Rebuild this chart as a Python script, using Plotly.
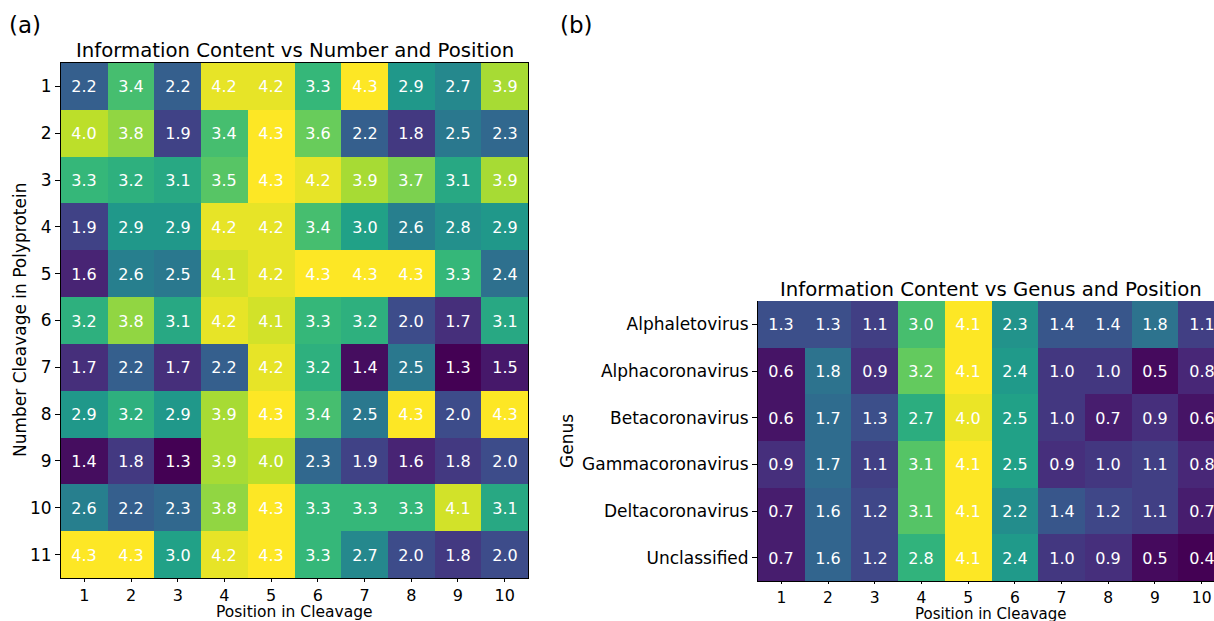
import plotly.graph_objects as go

# Panel (a): information content per cleavage number and position
positions = [1, 2, 3, 4, 5, 6, 7, 8, 9, 10]
cleavage_numbers = [1, 2, 3, 4, 5, 6, 7, 8, 9, 10, 11]
ic_by_number = [
    [2.2, 3.4, 2.2, 4.2, 4.2, 3.3, 4.3, 2.9, 2.7, 3.9],
    [4.0, 3.8, 1.9, 3.4, 4.3, 3.6, 2.2, 1.8, 2.5, 2.3],
    [3.3, 3.2, 3.1, 3.5, 4.3, 4.2, 3.9, 3.7, 3.1, 3.9],
    [1.9, 2.9, 2.9, 4.2, 4.2, 3.4, 3.0, 2.6, 2.8, 2.9],
    [1.6, 2.6, 2.5, 4.1, 4.2, 4.3, 4.3, 4.3, 3.3, 2.4],
    [3.2, 3.8, 3.1, 4.2, 4.1, 3.3, 3.2, 2.0, 1.7, 3.1],
    [1.7, 2.2, 1.7, 2.2, 4.2, 3.2, 1.4, 2.5, 1.3, 1.5],
    [2.9, 3.2, 2.9, 3.9, 4.3, 3.4, 2.5, 4.3, 2.0, 4.3],
    [1.4, 1.8, 1.3, 3.9, 4.0, 2.3, 1.9, 1.6, 1.8, 2.0],
    [2.6, 2.2, 2.3, 3.8, 4.3, 3.3, 3.3, 3.3, 4.1, 3.1],
    [4.3, 4.3, 3.0, 4.2, 4.3, 3.3, 2.7, 2.0, 1.8, 2.0],
]

# Panel (b): information content per genus and position
genera = ["Alphaletovirus", "Alphacoronavirus", "Betacoronavirus",
          "Gammacoronavirus", "Deltacoronavirus", "Unclassified"]
ic_by_genus = [
    [1.3, 1.3, 1.1, 3.0, 4.1, 2.3, 1.4, 1.4, 1.8, 1.1],
    [0.6, 1.8, 0.9, 3.2, 4.1, 2.4, 1.0, 1.0, 0.5, 0.8],
    [0.6, 1.7, 1.3, 2.7, 4.0, 2.5, 1.0, 0.7, 0.9, 0.6],
    [0.9, 1.7, 1.1, 3.1, 4.1, 2.5, 0.9, 1.0, 1.1, 0.8],
    [0.7, 1.6, 1.2, 3.1, 4.1, 2.2, 1.4, 1.2, 1.1, 0.7],
    [0.7, 1.6, 1.2, 2.8, 4.1, 2.4, 1.0, 0.9, 0.5, 0.4],
]

W, H = 1214, 621
FONT = "DejaVu Sans"


def px_x(x):
    return x / W


def px_y(y):
    return 1 - y / H


fig = go.Figure()

fig.add_trace(go.Heatmap(
    z=ic_by_number, x=positions, y=cleavage_numbers,
    colorscale="Viridis", showscale=False,
    texttemplate="%{z:.1f}",
    textfont=dict(color="white", size=16, family=FONT),
    xaxis="x", yaxis="y", hoverinfo="skip",
))

fig.add_trace(go.Heatmap(
    z=ic_by_genus, x=positions, y=genera,
    colorscale="Viridis", showscale=False,
    texttemplate="%{z:.1f}",
    textfont=dict(color="white", size=16, family=FONT),
    xaxis="x2", yaxis="y2", hoverinfo="skip",
))

axis_common = dict(
    showline=True, mirror=True, linecolor="black", linewidth=1,
    tickcolor="black", ticks="outside",
    showgrid=False, zeroline=False,
)
y_ticks = dict(ticklen=5, tickfont=dict(size=17, family=FONT, color="black"))
x_ticks = dict(ticklen=3, tickfont=dict(size=16, family=FONT, color="black"))
x2_ticks = dict(ticklen=2, tickfont=dict(size=15.5, family=FONT, color="black"))

# right panel is wider than the page, so its last column is clipped
right_left, right_cell = 758, 46.7
right_max = 0.5 + (W - right_left) / right_cell

fig.update_layout(
    width=W, height=H,
    margin=dict(l=0, r=0, t=0, b=0),
    paper_bgcolor="white", plot_bgcolor="white",
    font=dict(family=FONT, color="black"),
    xaxis=dict(domain=[px_x(61), px_x(528)], anchor="y",
               tickvals=positions, range=[0.5, 10.5], **axis_common, **x_ticks),
    yaxis=dict(domain=[px_y(578), px_y(63)], anchor="x",
               tickvals=cleavage_numbers, range=[11.5, 0.5], **axis_common, **y_ticks),
    xaxis2=dict(domain=[px_x(right_left), 1], anchor="y2",
                tickvals=positions, range=[0.5, right_max], **axis_common, **x2_ticks),
    yaxis2=dict(domain=[px_y(581), px_y(301)], anchor="x2",
                type="category", autorange="reversed", **axis_common, **y_ticks),
)

fig.update_xaxes(selector=dict(anchor="y2"), mirror=False)

ann = []


def label(text, x, y, size, angle=0):
    ann.append(dict(text=text, x=px_x(x), y=px_y(y), xref="paper", yref="paper",
                    showarrow=False, textangle=angle, xanchor="center", yanchor="middle",
                    font=dict(size=size, family=FONT, color="black")))


label("(a)", 25, 25, 23)
label("(b)", 576, 25, 23)
label("Information Content vs Number and Position", 294.5, 50, 19.7)
label("Information Content vs Genus and Position", 991, 289, 19.7)
label("Position in Cleavage", 294.5, 612, 15.5)
label("Position in Cleavage", 991, 613.5, 15)
label("Number Cleavage in Polyprotein", 20, 320, 17, -90)
label("Genus", 567, 441, 17, -90)

fig.update_layout(annotations=ann)

fig.write_html("out.html")
